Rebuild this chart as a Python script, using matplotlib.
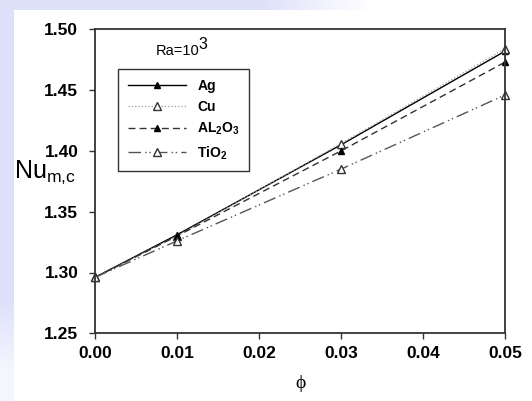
import numpy as np
import matplotlib
matplotlib.use("Agg")
import matplotlib.pyplot as plt

phi = [0.00, 0.01, 0.03, 0.05]
nu_ag = [1.296, 1.331, 1.405, 1.482]
nu_cu = [1.296, 1.330, 1.406, 1.484]
nu_al2o3 = [1.296, 1.330, 1.400, 1.473]
nu_tio2 = [1.296, 1.326, 1.385, 1.446]

x_ticks = [0.00, 0.01, 0.02, 0.03, 0.04, 0.05]
y_ticks = [1.25, 1.30, 1.35, 1.40, 1.45, 1.50]

plt.rcParams['font.family'] = ['Liberation Sans', 'DejaVu Sans']
plt.rcParams['mathtext.fontset'] = 'custom'
plt.rcParams['mathtext.rm'] = 'Liberation Sans'
plt.rcParams['mathtext.bf'] = 'Liberation Sans:bold'

fig = plt.figure(figsize=(5.32, 4.01), dpi=100)
fig.patch.set_facecolor('white')

# soft lavender border along the left and top edges of the page
bg = fig.add_axes([0, 0, 1, 1], zorder=-10)
bg.set_axis_off()
W, H = 532, 401
img = np.ones((H, W, 3))
lav = np.array([0.87, 0.88, 0.98])
xs = np.arange(W)
top_fade = np.clip(1 - (xs - 260) / 110, 0, 1)
for i in range(10):
    img[i, :, :] = 1 - (1 - lav)[None, :] * top_fade[:, None]
left_fade = np.clip(1 - (np.arange(H) - 300) / 100, 0.3, 1)
for j in range(14):
    img[:, j, :] = 1 - (1 - lav)[None, :] * left_fade[:, None]
bg.imshow(img, extent=[0, 1, 0, 1], aspect='auto')
bg.set_xlim(0, 1)
bg.set_ylim(0, 1)

ax = fig.add_axes([95 / W, 67.7 / H, 410 / W, 304 / H])

ax.plot(phi, nu_ag, color='black', lw=1.0, ls='-', marker='^', clip_on=False,
        markersize=5, markerfacecolor='black', markeredgecolor='black', label='Ag')
ax.plot(phi, nu_cu, color='#9a9a9a', lw=0.9, ls=':', marker='^', clip_on=False,
        markersize=5.5, markerfacecolor='white', markeredgecolor='#333333', label='Cu')
ax.plot(phi, nu_al2o3, color='#333333', lw=1.0, ls=(0, (5, 3)), marker='^', clip_on=False,
        markersize=5, markerfacecolor='black', markeredgecolor='black',
        label=r'AL$_\mathbf{2}$O$_\mathbf{3}$')
ax.plot(phi, nu_tio2, color='#555555', lw=1.0, ls=(0, (9, 3, 1, 2, 1, 3)), marker='^',
        clip_on=False, markersize=5.5, markerfacecolor='white', markeredgecolor='#333333',
        label=r'TiO$_\mathbf{2}$')

ax.set_xlim(0, 0.05)
ax.set_ylim(1.25, 1.50)
ax.set_xticks(x_ticks)
ax.set_yticks(y_ticks)
ax.set_xticklabels([f"{v:.2f}" for v in x_ticks], fontweight='bold', fontsize=12.5)
ax.set_yticklabels([f"{v:.2f}" for v in y_ticks], fontweight='bold', fontsize=12.5)
ax.tick_params(axis='x', direction='out', length=4, width=1, color='#333333', pad=5)
ax.tick_params(axis='y', direction='out', length=4, width=1, color='#333333', pad=8)
for s in ax.spines.values():
    s.set_color('#333333')
    s.set_linewidth(1.3)

fig.text(14 / W, 1 - 178 / H, r'Nu$_{\mathregular{m{,}c}}$', fontsize=18, va='baseline')

fig.text(300 / W, 1 - 383 / H, 'ϕ', fontsize=14, ha='center', va='center',
         family=['Liberation Serif', 'DejaVu Serif'])

# Rayleigh number with a raised exponent placed just after the base text
ra = fig.text(156 / W, 1 - 55 / H, 'Ra=10', fontsize=10.5, ha='left', va='baseline')
ax.annotate('3', xy=(1, 1), xycoords=ra, xytext=(-1.0, -6), textcoords='offset points',
            fontsize=11.5, ha='left', va='bottom')

leg = ax.legend(loc='upper left', bbox_to_anchor=(23 / 410, 1 - 40 / 304),
                frameon=True, fancybox=False, edgecolor='black',
                prop={'weight': 'bold', 'size': 10}, handlelength=4.2,
                borderpad=0.7, labelspacing=0.5, handletextpad=0.8, borderaxespad=0)
leg.get_frame().set_linewidth(1.0)

fig.savefig('out.png', dpi=100)
